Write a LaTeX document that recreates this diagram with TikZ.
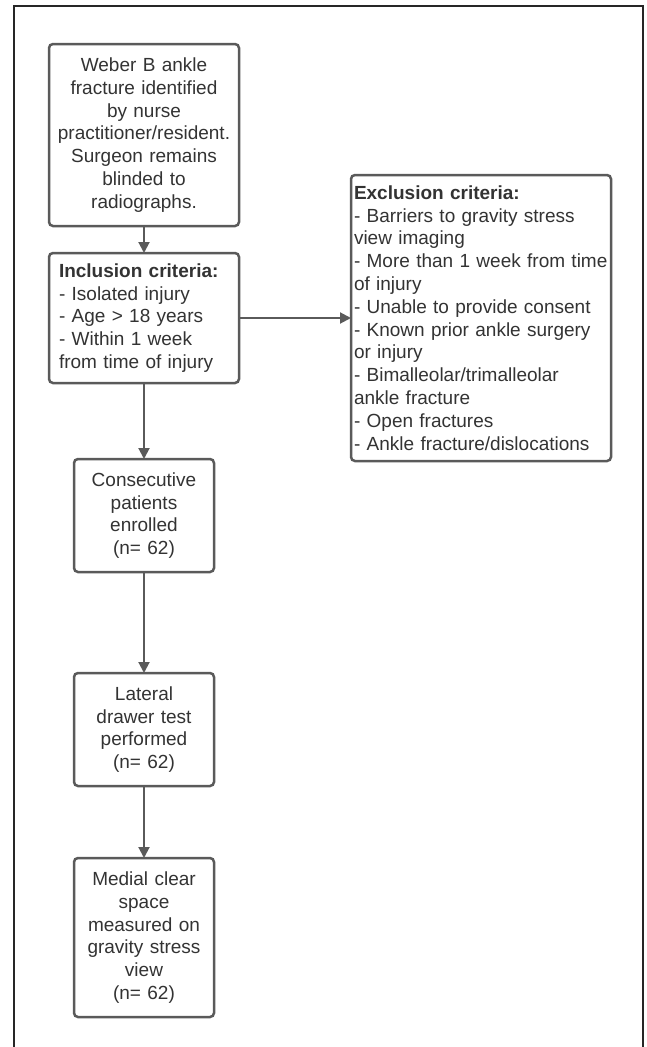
\documentclass[tikz,border=0pt]{standalone}
\usepackage{fontspec}
\setmainfont{Liberation Sans}
\usepackage{xcolor}
\usepackage{tikz}
\usetikzlibrary{positioning, arrows.meta}
\definecolor{boxline}{HTML}{5A5A5A}
\definecolor{boxtext}{HTML}{333333}

\begin{document}
\begin{tikzpicture}[
  x=1pt, y=1pt,
  every node/.style={
    draw=boxline,
    line width=2.5pt,
    rounded corners=4pt,
    align=center,
    text=boxtext,
    font=\fontsize{19}{22.8}\selectfont,
    fill=white,
    inner sep=0pt,
    outer sep=0pt
  },
  listbox/.style={align=left, inner xsep=#1},
  flow/.style={draw=boxline, line width=2pt, -{Triangle[length=11pt,width=11pt]}}
]

% Frame
\useasboundingbox (0,0) rectangle (647,-1047);
\draw[line width=1.3pt, black!85] (14,-1047) -- (14,-6) -- (643,-6) -- (643,-1047);

% Main column
\node (weber) [text width=190pt, minimum height=182pt] at (144,-135) {Weber B ankle\\
fracture identified\\ by nurse\\ practitioner/resident.\\ Surgeon remains\\ blinded to\\ radiographs.};
\node (incl) [below=27pt of weber, listbox=10pt, text width=170pt, minimum height=130pt] {\textbf{Inclusion criteria:}\\
- Isolated injury\\ - Age > 18 years\\ - Within 1 week\\ from time of injury};
\node (consec) [below=76pt of incl, text width=140pt, minimum height=113pt] {Consecutive\\ patients\\ enrolled\\ (n= 62)};
\node (lateral) [below=101pt of consec, text width=140pt, minimum height=113pt] {Lateral\\ drawer test\\ performed\\ (n= 62)};
\node (medial) [below=72pt of lateral, text width=140pt, minimum height=159pt] {Medial clear\\ space\\ measured on\\ gravity stress\\ view\\ (n= 62)};

% Side box
\node (excl) [right=112pt of incl, listbox=3pt, text width=254pt, minimum height=286pt] {\textbf{Exclusion criteria:}\\
- Barriers to gravity stress\\ view imaging\\ - More than 1 week from time\\ of injury\\
- Unable to provide consent\\ - Known prior ankle surgery\\ or injury\\
- Bimalleolar/trimalleolar\\ ankle fracture\\ - Open fractures\\ - Ankle fracture/dislocations};

% Arrows
\draw[flow] (weber) -- (incl);
\draw[flow] (incl) -- (excl);
\draw[flow] (incl) -- (consec);
\draw[flow] (consec) -- (lateral);
\draw[flow] (lateral) -- (medial);

\end{tikzpicture}
\end{document}
